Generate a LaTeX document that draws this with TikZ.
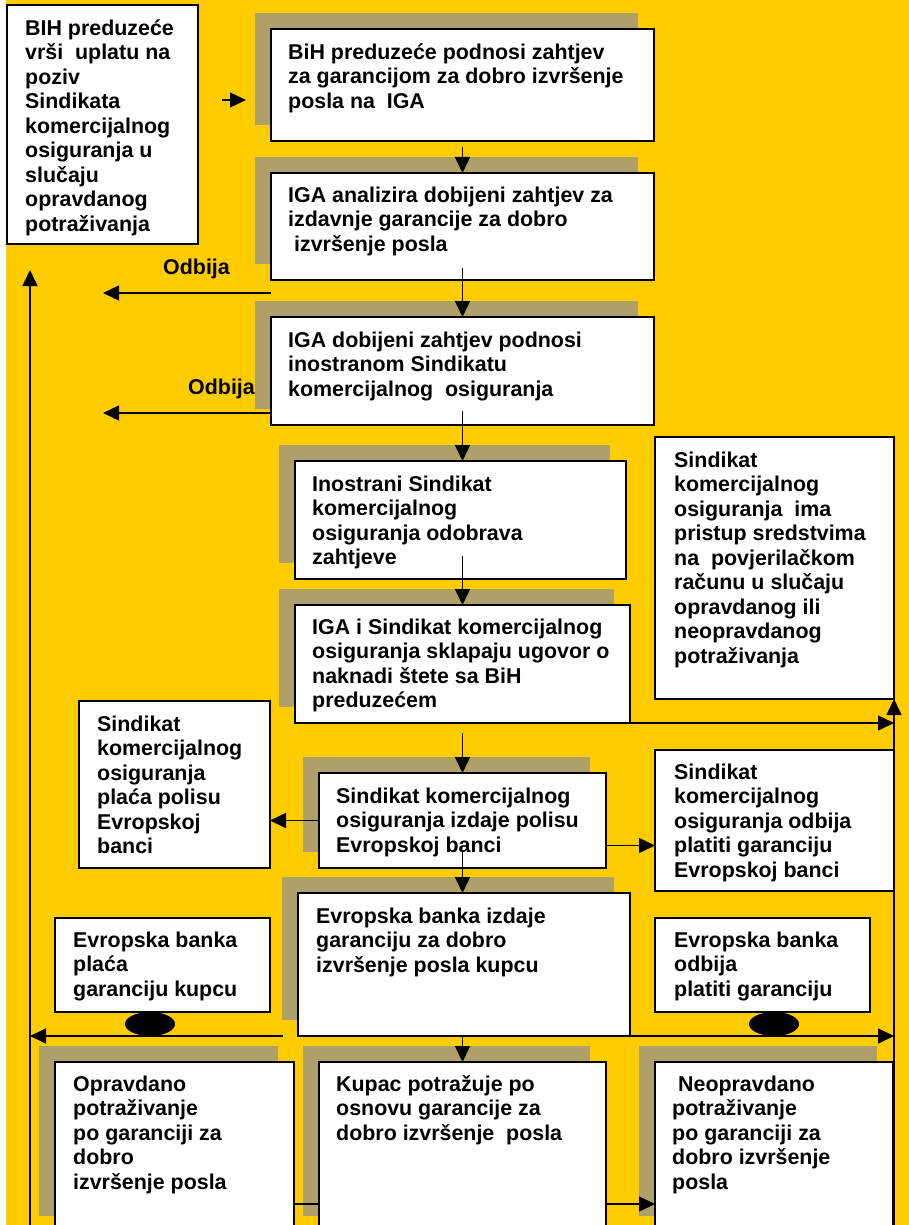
\documentclass[tikz,border=0pt]{standalone}
\usepackage{fontspec}
\setmainfont{Liberation Sans}
\usetikzlibrary{arrows.meta,shadows,calc,shapes.geometric}
\definecolor{bgyellow}{RGB}{255,204,0}
\definecolor{shadowcol}{RGB}{174,160,104}
\newcommand\boxtext[4]{\node[txt] (#1) at (#2,#3-17) {\rule{0pt}{17pt}#4};}
\begin{document}
\begin{tikzpicture}[x=1pt,y=-1pt,
  thickbox/.style={draw=black, line width=2.9pt, fill=white, anchor=north west, inner sep=0pt, outer sep=0pt},
  thinbox/.style={draw=black, line width=1.9pt, fill=white, anchor=north west, inner sep=0pt, outer sep=0pt},
  shadowed/.style={general shadow={fill=shadowcol, shadow xshift=-16pt, shadow yshift=16pt}},
  txt/.style={anchor=north west, inner sep=0pt, align=left, font=\bfseries\fontsize{21.4}{24.5}\selectfont},
  arr/.style={line width=1.5pt, -{Triangle[length=16pt,width=15pt]}},
  ln/.style={line width=1.5pt},
  blob/.style={ellipse, fill=black, minimum width=50pt, minimum height=24pt, inner sep=0pt}
]
\useasboundingbox (0,0) rectangle (909,1225);
\clip (0,0) rectangle (909,1225);
\fill[white] (0,0) rectangle (909,1225);
\fill[bgyellow] (6,0) rectangle (909,1225);

% boxes
\node[thickbox, minimum width=191pt, minimum height=239pt] (b1) at (7,5) {};
\node[thickbox, shadowed, minimum width=383pt, minimum height=112pt] (b2) at (271,29) {};
\node[thickbox, shadowed, minimum width=383pt, minimum height=107pt] (b3) at (271,173) {};
\node[thickbox, shadowed, minimum width=383pt, minimum height=108pt] (b4) at (271,317) {};
\node[thickbox, shadowed, minimum width=331pt, minimum height=118pt] (b5) at (295,461) {};
\node[thickbox, shadowed, minimum width=335pt, minimum height=118pt] (b6) at (295,605) {};
\node[thinbox, minimum width=239pt, minimum height=262pt] (b7) at (655,437) {};
\node[thickbox, shadowed, minimum width=287pt, minimum height=95pt] (b8) at (319,773) {};
\node[thinbox, minimum width=191pt, minimum height=167pt] (b9) at (79,701) {};
\node[thinbox, minimum width=239pt, minimum height=141pt] (b10) at (655,750) {};
\node[thickbox, shadowed, minimum width=332pt, minimum height=143pt] (b11) at (298,893) {};
\node[thinbox, minimum width=215pt, minimum height=94pt] (b12) at (55,918) {};
\node[thinbox, minimum width=215pt, minimum height=94pt] (b13) at (655,918) {};
\node[thickbox, shadowed, minimum width=287pt, minimum height=170pt] (b14) at (319,1062) {};
\node[thickbox, shadowed, minimum width=239pt, minimum height=170pt] (b15) at (55,1062) {};
\node[thickbox, shadowed, minimum width=238pt, minimum height=170pt] (b16) at (655,1062) {};

% texts
\boxtext{t1}{25}{35}{BIH preduzeće\\vrši\ \ uplatu na\\poziv\\Sindikata\\komercijalnog\\osiguranja u\\slučaju\\opravdanog\\potraživanja}
\boxtext{t2}{288}{59}{BiH preduzeće podnosi zahtjev\\za garancijom za dobro izvršenje\\posla na\ \ IGA}
\boxtext{t3}{288}{202}{IGA analizira dobijeni zahtjev za\\izdavnje garancije za dobro\\\hspace*{0.28em}izvršenje posla}
\boxtext{t4}{288}{347}{IGA dobijeni zahtjev podnosi\\inostranom Sindikatu\\komercijalnog\ \ osiguranja}
\boxtext{t5}{312}{491}{Inostrani Sindikat\\komercijalnog\\osiguranja odobrava\\zahtjeve}
\boxtext{t6}{312}{634}{IGA i Sindikat komercijalnog\\osiguranja sklapaju ugovor o\\naknadi štete sa BiH\\preduzećem}
\boxtext{t7}{674}{467}{Sindikat\\komercijalnog\\osiguranja\ \ ima\\pristup sredstvima\\na\ \ povjerilačkom\\računu u slučaju\\opravdanog ili\\neopravdanog\\potraživanja}
\boxtext{t8}{336}{803}{Sindikat komercijalnog\\osiguranja izdaje polisu\\Evropskoj banci}
\boxtext{t9}{97}{731}{Sindikat\\komercijalnog\\osiguranja\\plaća polisu\\Evropskoj\\banci}
\boxtext{t10}{674}{779}{Sindikat\\komercijalnog\\osiguranja odbija\\platiti garanciju\\Evropskoj banci}
\boxtext{t11}{316}{923}{Evropska banka izdaje\\garanciju za dobro\\izvršenje posla kupcu}
\boxtext{t12}{73}{947}{Evropska banka\\plaća\\garanciju kupcu}
\boxtext{t13}{674}{947}{Evropska banka\\odbija\\platiti garanciju}
\boxtext{t14}{336}{1091}{Kupac potražuje po\\osnovu garancije za\\dobro izvršenje\ \ posla}
\boxtext{t15}{73}{1091}{Opravdano\\potraživanje\\po garanciji za\\dobro\\izvršenje posla}
\boxtext{t16}{672}{1091}{\ Neopravdano\\potraživanje\\po garanciji za\\dobro izvršenje\\posla}
\boxtext{od1}{163}{274}{Odbija}
\boxtext{od2}{188}{394}{Odbija}

% helper coordinates
\coordinate (s0) at (222,100);
\coordinate (s1) at (246,100);
\coordinate (o1) at (103,293);
\coordinate (o2) at (103,413);
\coordinate (lb) at (30,1230);
\coordinate (lt) at (30,270);
\coordinate (rb) at (894,1230);
\coordinate (ll) at (283,1036);
\coordinate (q) at (0,1204);

% connectors
\draw[arr] (s0) -- (s1);
\draw[arr] ($(b2.south)+(0,6)$) -- (b3.north);
\draw[arr] ($(b3.south)+(0,-12)$) -- (b4.north);
\draw[arr] ($(b4.south)+(0,-14)$) -- (b4.south |- b5.north);
\draw[arr] ($(b4.south |- b5.south)+(0,-23)$) -- (b4.south |- b6.north);
\draw[arr] ($(b4.south |- b6.south)+(0,10)$) -- (b4.south |- b8.north);
\draw[arr] ($(b4.south |- b8.south)+(0,-16)$) -- (b4.south |- b11.north);
\draw[arr] (b4.south |- b11.south) -- (b4.south |- b14.north);

\draw[arr] (b3.west |- o1) -- (o1);
\draw[arr] (b4.west |- o2) -- (o2);
\draw[arr] (lb) -- (lt);
\draw[arr] (rb) -- (rb |- b7.south);
\draw[arr] (b6.south east) -- (rb |- b6.south east);
\draw[arr] (b8.west) -- (b8.west -| b9.east);
\draw[arr] ($(b8.east)+(0,25)$) coordinate (p) -- (p -| b10.west);
\draw[arr] (ll) -- (ll -| lb);
\draw[arr] (b11.south east) -- (b11.south east -| rb);
\draw[ln] (b15.east |- q) -- (b14.west |- q);
\draw[arr] (b14.east |- q) -- (b16.west |- q);

\node[blob] (e12) at (150,1024) {};
\node[blob] (e13) at (774,1024) {};
\end{tikzpicture}
\end{document}
